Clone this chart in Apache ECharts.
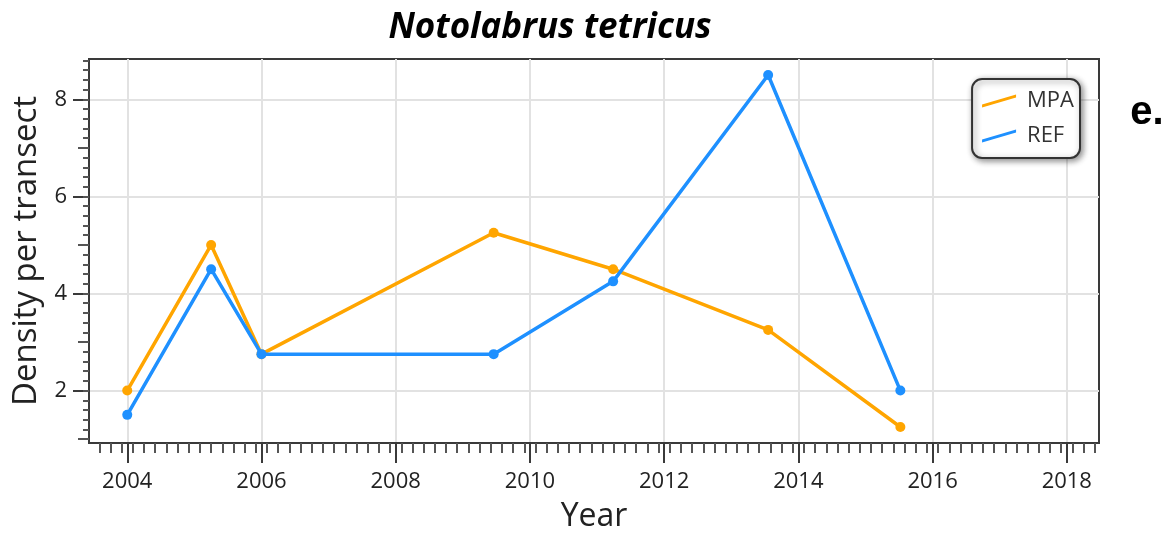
<!DOCTYPE html>
<html><head><meta charset="utf-8">
<script src="https://cdn.jsdelivr.net/npm/echarts@6/dist/echarts.min.js"></script>
<style>html,body{margin:0;padding:0;background:#fff}#c{width:1176px;height:541px}</style>
</head><body><div id="c"></div>
<script>
const years = [2004, 2005.25, 2006, 2009.46, 2011.24, 2013.55, 2015.52];
const mpaValues = [2, 5, 2.75, 5.25, 4.5, 3.25, 1.25];
const refValues = [1.5, 4.5, 2.75, 2.75, 4.25, 8.5, 2];
const xTickLabels = [2004, 2006, 2008, 2010, 2012, 2014, 2016, 2018];
const yTickLabels = [2, 4, 6, 8];
const seriesNames = ['MPA', 'REF'];

const xMin = 2003.43, xMax = 2018.48, yMin = 0.92, yMax = 8.83;
const xMinor = [];
for (let k = -6; k < 100; k++) { const v = +(2004 + (2 * k + 1) / 12).toFixed(4); if (v > xMin && v < xMax) xMinor.push(v); }
const yMinor = [];
for (let k = 0; k < 50; k++) { const v = +(0.2 * k).toFixed(2); if (v > yMin && v < yMax) yMinor.push(v); }
const yMid = [1, 3, 5, 7];

const FONT = '"Open Sans", "Noto Sans", sans-serif';
const AX = '#3a3a3a';

const chart = echarts.init(document.getElementById('c'), null, { renderer: 'canvas' });
const pairs = a => years.map((y, i) => [y, a[i]]);
const icon = 'path://M0,10 L34,0 L34,3 L0,13 Z';

chart.setOption({
  animation: false,
  backgroundColor: '#fff',
  grid: { left: 89, right: 77, top: 59, bottom: 98, show: true, borderColor: AX, borderWidth: 2, backgroundColor: 'transparent' },
  graphic: [
    { type: 'text', x: 550, y: 28, style: { text: 'Notolabrus tetricus', font: 'italic bold 35px ' + FONT, fill: '#000', align: 'center', verticalAlign: 'middle' } },
    { type: 'text', x: 1147, y: 113, style: { text: 'e.', font: 'bold 40px "Liberation Sans", Arial, sans-serif', fill: '#000', align: 'center', verticalAlign: 'middle' } }
  ],
  legend: {
    orient: 'vertical', right: 96, top: 79,
    backgroundColor: '#fff', borderColor: '#333', borderWidth: 2, borderRadius: 10,
    shadowBlur: 6, shadowColor: 'rgba(0,0,0,0.45)', shadowOffsetX: 2, shadowOffsetY: 2,
    padding: [11, 6, 11, 10], itemGap: 13, itemWidth: 34, itemHeight: 13,
    textStyle: { fontSize: 22, fontFamily: FONT, color: '#333', padding: [0, 0, 0, 6] },
    data: seriesNames.map(n => ({ name: n, icon: icon }))
  },
  xAxis: [
    {
      type: 'value', min: xMin, max: xMax, position: 'bottom',
      name: 'Year', nameLocation: 'middle', nameGap: 58,
      nameTextStyle: { fontSize: 32, fontFamily: FONT, color: '#222' },
      axisLine: { show: true, lineStyle: { color: AX, width: 2 } },
      axisTick: { show: true, customValues: xTickLabels, length: 20, lineStyle: { color: AX, width: 2 } },
      axisLabel: { customValues: xTickLabels, formatter: v => String(Math.round(v)), fontSize: 22, fontFamily: FONT, color: '#222', margin: 28 },
      splitLine: { show: true, lineStyle: { color: '#e2e2e2', width: 2 } }
    },
    {
      type: 'value', min: xMin, max: xMax, position: 'bottom', gridIndex: 0,
      axisLine: { show: false },
      axisTick: { show: true, customValues: xMinor, length: 10, lineStyle: { color: '#555', width: 2 } },
      axisLabel: { show: false },
      splitLine: { show: false }
    }
  ],
  yAxis: [
    {
      type: 'value', min: yMin, max: yMax, position: 'left',
      name: 'Density per transect', nameLocation: 'middle', nameGap: 44, nameRotate: 90,
      nameTextStyle: { fontSize: 33, fontFamily: FONT, color: '#222' },
      axisLine: { show: true, lineStyle: { color: AX, width: 2 } },
      axisTick: { show: true, customValues: yTickLabels, length: 16, lineStyle: { color: AX, width: 2 } },
      axisLabel: { customValues: yTickLabels, fontSize: 22, fontFamily: FONT, color: '#222', margin: 22 },
      splitLine: { show: true, lineStyle: { color: '#e2e2e2', width: 2 } }
    },
    {
      type: 'value', min: yMin, max: yMax, position: 'left', offset: 0, gridIndex: 0,
      axisLine: { show: false },
      axisTick: { show: true, customValues: yMid, length: 11, lineStyle: { color: '#555', width: 2 } },
      axisLabel: { show: false },
      splitLine: { show: false }
    },
    {
      type: 'value', min: yMin, max: yMax, position: 'left', offset: 0, gridIndex: 0,
      axisLine: { show: false },
      axisTick: { show: true, customValues: yMinor, length: 6, lineStyle: { color: '#555', width: 2 } },
      axisLabel: { show: false },
      splitLine: { show: false }
    }
  ],
  series: [
    { name: seriesNames[0], type: 'line', data: pairs(mpaValues), color: '#FFA500', lineStyle: { width: 3.5, color: '#FFA500' }, itemStyle: { color: '#FFA500' }, symbol: 'circle', symbolSize: 10, z: 3 },
    { name: seriesNames[1], type: 'line', data: pairs(refValues), color: '#1E90FF', lineStyle: { width: 3.5, color: '#1E90FF' }, itemStyle: { color: '#1E90FF' }, symbol: 'circle', symbolSize: 10, z: 4 }
  ]
});
</script></body></html>
